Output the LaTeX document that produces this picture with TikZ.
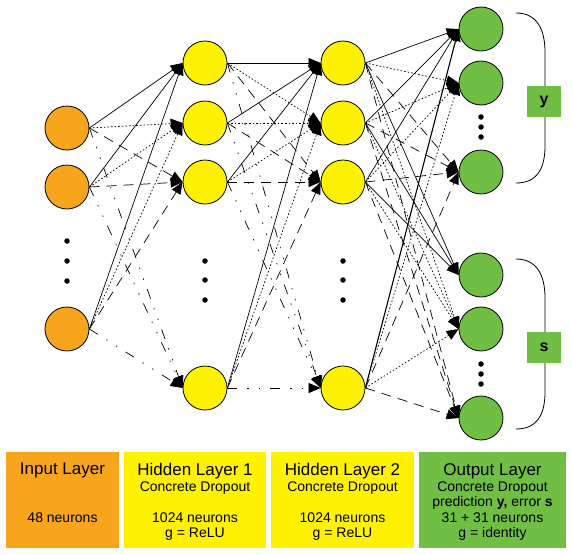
\documentclass[tikz,border=0pt]{standalone}
\usepackage{fontspec}
\setmainfont{Liberation Sans}
\usetikzlibrary{arrows.meta}
\definecolor{corange}{RGB}{247,165,29}
\definecolor{cyellow}{RGB}{255,242,0}
\definecolor{cgreen}{RGB}{112,190,68}
\begin{document}
\begin{tikzpicture}[x=1pt,y=-1pt,
  neuron/.style={circle, draw=black, line width=0.8pt, minimum size=44pt, inner sep=0pt},
  conn/.style={line width=0.7pt, -{Triangle[length=12pt,width=10pt]}},
  solidl/.style={conn},
  dotl/.style={conn, dash pattern=on 1.6pt off 2pt},
  dashl/.style={conn, dash pattern=on 10pt off 7pt},
  ddotl/.style={conn, dash pattern=on 10pt off 10pt on 1.4pt off 10pt on 1.4pt off 10pt},
  vdot/.style={circle, fill=black, inner sep=0pt, minimum size=5.5pt},
  layerbox/.style={rectangle, inner sep=0pt, anchor=north west, minimum height=96pt},
  titletxt/.style={anchor=base, inner sep=0pt, font=\fontsize{17}{20}\selectfont},
  bodytxt/.style={anchor=base, inner sep=0pt, font=\fontsize{14}{16}\selectfont},
  labbox/.style={rectangle, fill=cgreen, minimum width=34pt, minimum height=31pt, inner sep=0pt, font=\fontsize{16}{18}\selectfont\bfseries},
  bracketl/.style={line width=0.8pt},
]
\useasboundingbox (0,0) rectangle (572,554);

% neurons
\node[neuron, fill=corange] (i1) at (67,128) {};
\node[neuron, fill=corange] (i2) at (67,187) {};
\node[neuron, fill=corange] (i4) at (67,329) {};
\node[neuron, fill=cyellow] (h1) at (205,63) {};
\node[neuron, fill=cyellow] (h2) at (205,123) {};
\node[neuron, fill=cyellow] (h3) at (205,182) {};
\node[neuron, fill=cyellow] (h4) at (205,388) {};
\node[neuron, fill=cyellow] (g1) at (343,63) {};
\node[neuron, fill=cyellow] (g2) at (343,123) {};
\node[neuron, fill=cyellow] (g3) at (343,182) {};
\node[neuron, fill=cyellow] (g4) at (343,388) {};
\node[neuron, fill=cgreen] (o1) at (481,29) {};
\node[neuron, fill=cgreen] (o2) at (481,83) {};
\node[neuron, fill=cgreen] (o3) at (481,172) {};
\node[neuron, fill=cgreen] (o4) at (481,275) {};
\node[neuron, fill=cgreen] (o5) at (481,329) {};
\node[neuron, fill=cgreen] (o6) at (481,418) {};

% ellipsis dots
\node[vdot] (di1) at (67,241) {};
\node[vdot] (di2) at (67,261) {};
\node[vdot] (di3) at (67,281) {};
\node[vdot] (dh1) at (205,261) {};
\node[vdot] (dh2) at (205,280) {};
\node[vdot] (dh3) at (205,300) {};
\node[vdot] (dg1) at (343,261) {};
\node[vdot] (dg2) at (343,280) {};
\node[vdot] (dg3) at (343,300) {};
\node[vdot] (dy1) at (481,117) {};
\node[vdot] (dy2) at (481,127) {};
\node[vdot] (dy3) at (481,137) {};
\node[vdot] (ds1) at (481,364) {};
\node[vdot] (ds2) at (481,374) {};
\node[vdot] (ds3) at (481,384) {};

% input -> hidden 1
\foreach \s in {i1,i2,i4} {
  \draw[solidl] (\s.east) -- (h1.west);
  \draw[dotl] (\s.east) -- (h2.west);
  \draw[dashl] (\s.east) -- (h3.west);
  \draw[ddotl] (\s.east) -- (h4.west);
}
% hidden 1 -> hidden 2
\foreach \s in {h1,h2,h3,h4} {
  \draw[solidl] (\s.east) -- (g1.west);
  \draw[dotl] (\s.east) -- (g2.west);
  \draw[dashl] (\s.east) -- (g3.west);
  \draw[ddotl] (\s.east) -- (g4.west);
}
% hidden 2 -> output
\foreach \s in {g1,g2,g3} {
  \draw[solidl] (\s.east) -- (o1.west);
  \draw[dotl] (\s.east) -- (o2.west);
  \draw[dashl] (\s.east) -- (o3.west);
  \draw[solidl] (\s.east) -- (o4.west);
  \draw[dotl] (\s.east) -- (o5.west);
  \draw[dashl] (\s.east) -- (o6.west);
}
\draw[solidl, line width=1.1pt] (g4.east) -- (o1.west);
\draw[dotl] (g4.east) -- (o2.west);
\draw[dashl] (g4.east) -- (o3.west);
\draw[dotl] (g4.east) -- (o5.west);
\draw[dashl] (g4.east) -- (o6.west);

% brackets
\draw[bracketl] (516,13) .. controls (536,13) and (545,28) .. (545,52) -- (545,146) .. controls (545,170) and (536,183) .. (516,183);
\draw[bracketl] (516,259) .. controls (536,259) and (545,274) .. (545,298) -- (545,392) .. controls (545,416) and (536,429) .. (516,429);
\node[labbox] (ylab) at (544,101.5) {y};
\node[labbox] (slab) at (544,347.5) {s};

% layer boxes
\node[layerbox, fill=corange, minimum width=113pt] (inbox) at (6,452) {};
\node[layerbox, fill=cyellow, minimum width=142pt] (h1box) at (124,452) {};
\node[layerbox, fill=cyellow, minimum width=143pt] (h2box) at (271,452) {};
\node[layerbox, fill=cgreen, minimum width=147pt] (outbox) at (419,452) {};

\node[titletxt] (t1) at (62.5,474) {Input Layer};
\node[bodytxt] (t1b) at (62.5,522) {48 neurons};

\node[titletxt] (t2) at (195,475) {Hidden Layer 1};
\node[bodytxt] (t2a) at (195,491) {Concrete Dropout};
\node[bodytxt] (t2b) at (195,522) {1024 neurons};
\node[bodytxt] (t2c) at (195,537) {g = ReLU};

\node[titletxt] (t3) at (342.5,475) {Hidden Layer 2};
\node[bodytxt] (t3a) at (342.5,491) {Concrete Dropout};
\node[bodytxt] (t3b) at (342.5,522) {1024 neurons};
\node[bodytxt] (t3c) at (342.5,537) {g = ReLU};

\node[titletxt] (t4) at (492.5,475) {Output Layer};
\node[bodytxt] (t4a) at (492.5,491) {Concrete Dropout};
\node[bodytxt] (t4b) at (492.5,506.5) {prediction \textbf{y,} error \textbf{s}};
\node[bodytxt] (t4c) at (492.5,522) {31 + 31 neurons};
\node[bodytxt] (t4d) at (492.5,537) {g = identity};
\end{tikzpicture}
\end{document}
